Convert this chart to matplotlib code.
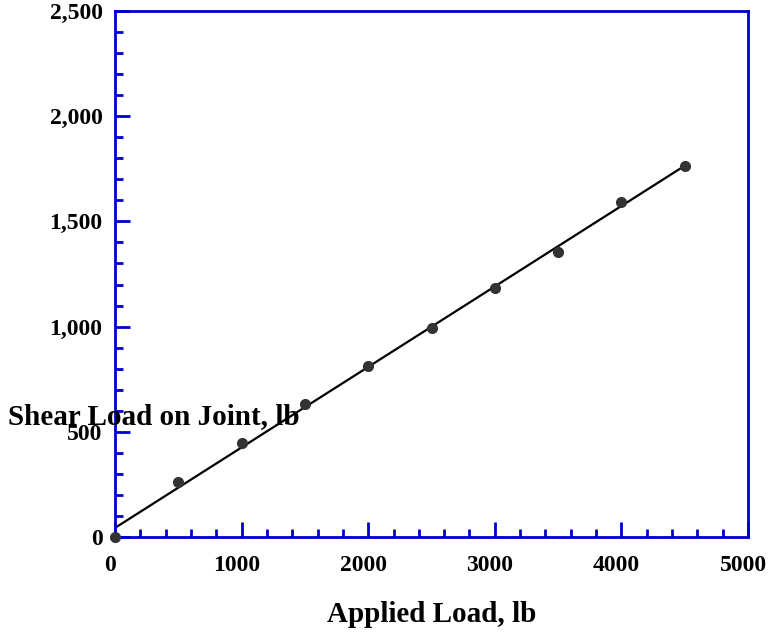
import numpy as np
import matplotlib
matplotlib.use("Agg")
from matplotlib import pyplot as plt
from matplotlib import transforms
from matplotlib.ticker import MultipleLocator, FuncFormatter

# applied load (lb) vs measured shear load on the joint (lb)
applied_load = [0, 500, 1000, 1500, 2000, 2500, 3000, 3500, 4000, 4500]
shear_load = [0, 261, 447, 632, 813, 993, 1183, 1355, 1592, 1763]

x_ticks = [0, 1000, 2000, 3000, 4000, 5000]
y_ticks = [0, 500, 1000, 1500, 2000, 2500]

blue = "#0000cc"
plt.rcParams['font.family'] = ['Liberation Serif', 'DejaVu Serif']
plt.rcParams['font.weight'] = 'bold'

fig = plt.figure(figsize=(7.69, 6.37), dpi=100)
ax = fig.add_axes([115 / 769, 1 - 537 / 637, (748 - 115) / 769, (537 - 11) / 637])

# linear fit through the points
slope, intercept = np.polyfit(applied_load, shear_load, 1)
fit_x = np.array([applied_load[0], applied_load[-1]])
ax.plot(fit_x, slope * fit_x + intercept, color="black", lw=1.6, zorder=2)
ax.plot(applied_load, shear_load, "o", color="#333333", ms=7, zorder=3,
        clip_on=False)

ax.set_xlim(0, 5000)
ax.set_ylim(0, 2500)
ax.set_xticks(x_ticks)
ax.set_yticks(y_ticks)
ax.xaxis.set_minor_locator(MultipleLocator(200))
ax.yaxis.set_minor_locator(MultipleLocator(100))
ax.yaxis.set_major_formatter(FuncFormatter(lambda v, p: "{:,.0f}".format(v)))

for side in ["left", "bottom", "right", "top"]:
    ax.spines[side].set_color(blue)
    ax.spines[side].set_linewidth(2)

ax.tick_params(which="both", direction="in", color=blue, width=2,
               top=False, right=False, labelsize=17)
ax.tick_params(which="major", length=11)
ax.tick_params(which="minor", length=6)
ax.tick_params(axis="x", which="major", pad=13)
ax.tick_params(axis="y", which="major", pad=9)

# x tick labels sit a little left of their ticks in the original
shift = transforms.ScaledTranslation(-5 / 100, 0, fig.dpi_scale_trans)
for lbl in ax.get_xticklabels():
    lbl.set_transform(lbl.get_transform() + shift)

ax.set_xlabel("Applied Load, lb", fontsize=21, fontweight="bold", labelpad=18)
fig.text(8 / 769, 1 - 417 / 637, "Shear Load on Joint, lb", fontsize=21,
         fontweight="bold", ha="left", va="center")

fig.savefig("out.png", dpi=100)
